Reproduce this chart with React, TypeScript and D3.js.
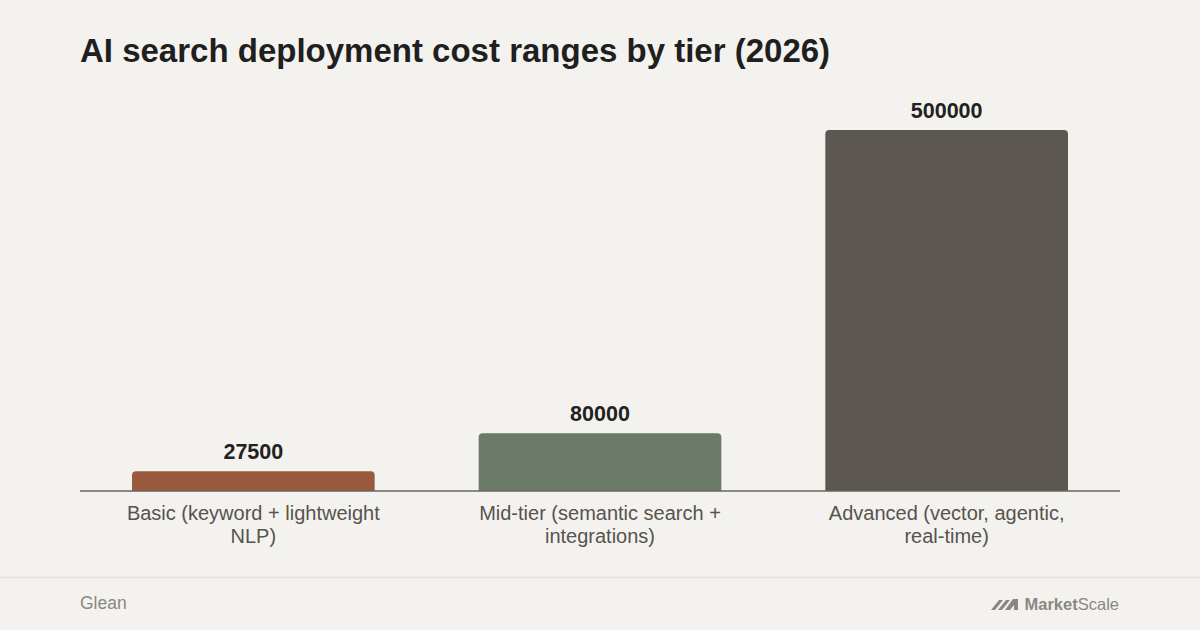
import React, { useEffect, useRef } from 'react';
import * as d3 from 'd3';

const categories = ['Basic', 'Mid-tier', 'Advanced'];
const categoryLabels = [
  ['Basic (keyword + lightweight', 'NLP)'],
  ['Mid-tier (semantic search +', 'integrations)'],
  ['Advanced (vector, agentic,', 'real-time)'],
];
const costs = [27500, 80000, 500000];
const barColors = ['#9b5a3e', '#6b7a69', '#5c5750'];

const W = 1200;
const H = 630;
const FONT = '"Liberation Sans", Arial, Helvetica, sans-serif';

const App: React.FC = () => {
  const svgRef = useRef<SVGSVGElement>(null);

  useEffect(() => {
    if (!svgRef.current) return;
    const svg = d3.select(svgRef.current);
    svg.selectAll('*').remove();

    const margin = { top: 130, right: 80, bottom: 139, left: 80 };
    const baseY = H - margin.bottom;

    svg.append('rect').attr('width', W).attr('height', H).attr('fill', '#f4f2ee');

    // Title
    svg.append('text')
      .attr('x', 80)
      .attr('y', 62)
      .style('font-family', FONT)
      .style('font-size', '33px')
      .style('font-weight', 700)
      .attr('fill', '#1f1f1f')
      .text('AI search deployment cost ranges by tier (2026)');

    const x = d3.scaleBand<string>()
      .domain(categories)
      .range([margin.left, W - margin.right])
      .paddingInner(0.3)
      .paddingOuter(0.15);

    const y = d3.scaleLinear()
      .domain([0, d3.max(costs) as number])
      .range([baseY, margin.top]);

    const g = svg.append('g');

    g.selectAll('.bar')
      .data(costs)
      .enter()
      .append('path')
      .attr('class', 'bar')
      .attr('fill', (_, i) => barColors[i])
      .attr('d', (d, i) => {
        const x0 = x(categories[i]) as number;
        const w = x.bandwidth();
        const top = y(d);
        const r = 4;
        return `M${x0},${baseY}V${top + r}Q${x0},${top} ${x0 + r},${top}H${x0 + w - r}Q${x0 + w},${top} ${x0 + w},${top + r}V${baseY}Z`;
      });

    g.selectAll('.value')
      .data(costs)
      .enter()
      .append('text')
      .attr('class', 'value')
      .attr('x', (_, i) => (x(categories[i]) as number) + x.bandwidth() / 2)
      .attr('y', (d) => y(d) - 12)
      .attr('text-anchor', 'middle')
      .style('font-family', FONT)
      .style('font-size', '21.5px')
      .style('font-weight', 700)
      .attr('fill', '#222')
      .text((d) => String(d));

    // Baseline
    svg.append('line')
      .attr('x1', margin.left)
      .attr('x2', W - margin.right)
      .attr('y1', baseY)
      .attr('y2', baseY)
      .attr('stroke', '#6a645c')
      .attr('stroke-width', 1.5);

    // Category labels
    categoryLabels.forEach((lines, i) => {
      const cx = (x(categories[i]) as number) + x.bandwidth() / 2;
      const t = svg.append('text')
        .attr('x', cx)
        .attr('y', baseY + 29)
        .attr('text-anchor', 'middle')
        .style('font-family', FONT)
        .style('font-size', '20px')
        .attr('fill', '#57534e');
      lines.forEach((line, j) => {
        t.append('tspan')
          .attr('x', cx)
          .attr('dy', j === 0 ? 0 : 23)
          .text(line);
      });
    });

    // Footer
    svg.append('line')
      .attr('x1', 0)
      .attr('x2', W)
      .attr('y1', 577.5)
      .attr('y2', 577.5)
      .attr('stroke', '#e4e1dc')
      .attr('stroke-width', 1.5);

    svg.append('text')
      .attr('x', 80)
      .attr('y', 609)
      .style('font-family', FONT)
      .style('font-size', '17.5px')
      .attr('fill', '#8a8782')
      .text('Glean');

    const logo = svg.append('g').attr('fill', '#8a8782');
    logo.append('path')
      .attr('d',
        'M991,610 L999,600 L1003,600 L995,610 Z ' +
        'M998,610 L1006,600 L1010,600 L1002,610 Z ' +
        'M1005,610 L1013,599 L1018,599 L1018,610 L1014,610 L1014,605 L1010,610 Z');
    const lt = logo.append('text')
      .attr('x', 1119)
      .attr('y', 610)
      .attr('text-anchor', 'end')
      .style('font-family', FONT)
      .style('font-size', '16.5px');
    lt.append('tspan').style('font-weight', 700).text('Market');
    lt.append('tspan').text('Scale');
  }, []);

  return (
    <svg
      ref={svgRef}
      width={W}
      height={H}
      viewBox={`0 0 ${W} ${H}`}
      style={{ position: 'absolute', top: 0, left: 0, display: 'block' }}
    />
  );
};

export default App;
